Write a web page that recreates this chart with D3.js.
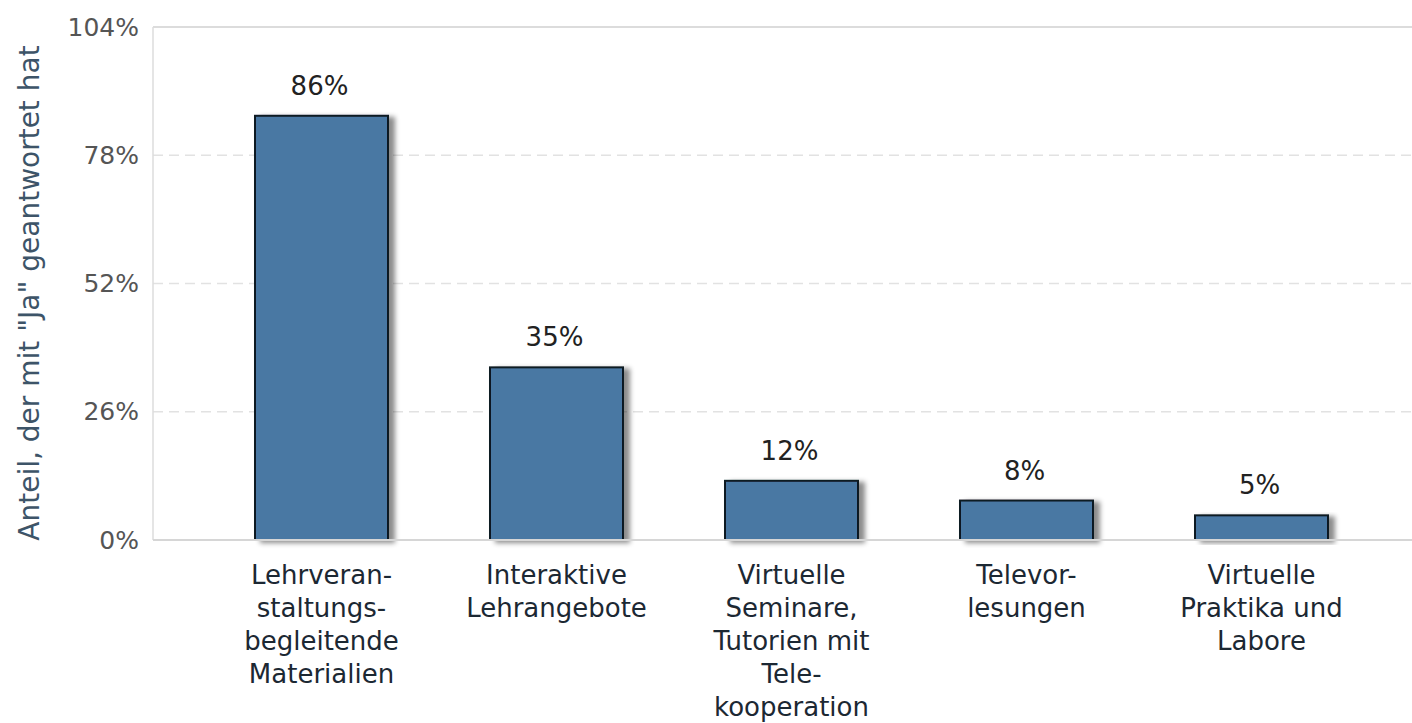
<!DOCTYPE html>
<html>
<head>
<meta charset="utf-8">
<script src="https://cdnjs.cloudflare.com/ajax/libs/d3/7.8.5/d3.min.js"></script>
<style>
  body { margin: 0; background: #fff; }
  text { font-family: "DejaVu Sans", sans-serif; }
</style>
</head>
<body>
<div id="chart"></div>
<script>
const categories = [
  ["Lehrveran-", "staltungs-", "begleitende", "Materialien"],
  ["Interaktive", "Lehrangebote"],
  ["Virtuelle", "Seminare,", "Tutorien mit", "Tele-", "kooperation"],
  ["Televor-", "lesungen"],
  ["Virtuelle", "Praktika und", "Labore"]
]
const values = [86, 35, 12, 8, 5]
const ticks = [0, 26, 52, 78, 104]
const yTitle = 'Anteil, der mit "Ja" geantwortet hat'

const width = 1412, height = 723
const plotLeft = 153, plotTop = 27, plotBottom = 540

const svg = d3.select("#chart").append("svg")
  .attr("width", width)
  .attr("height", height)

// drop shadow for bars
const defs = svg.append("defs")
const f = defs.append("filter").attr("id", "shadow")
  .attr("x", "-10%").attr("y", "-10%").attr("width", "130%").attr("height", "130%")
f.append("feDropShadow")
  .attr("dx", 6).attr("dy", 2).attr("stdDeviation", 2.5)
  .attr("flood-color", "#000").attr("flood-opacity", 0.45)

const x = d3.scaleBand()
  .domain(d3.range(values.length))
  .range([204, 1379])
  .paddingInner(0.434)
  .paddingOuter(0.217)

const y = d3.scaleLinear()
  .domain([0, 104])
  .range([plotBottom, plotTop])

// grid
svg.append("g")
  .selectAll("line")
  .data(ticks.filter(t => t > 0 && t < 104))
  .enter().append("line")
  .attr("x1", plotLeft).attr("x2", width)
  .attr("y1", d => y(d)).attr("y2", d => y(d))
  .attr("stroke", "#e2e2e2")
  .attr("stroke-width", 1.5)
  .attr("stroke-dasharray", "10,6")

// frame
svg.append("line")
  .attr("x1", plotLeft).attr("x2", width)
  .attr("y1", y(104)).attr("y2", y(104))
  .attr("stroke", "#dcdcdc").attr("stroke-width", 2)
svg.append("line")
  .attr("x1", plotLeft).attr("x2", plotLeft)
  .attr("y1", y(104)).attr("y2", y(0))
  .attr("stroke", "#dcdcdc").attr("stroke-width", 1.5)

// y axis labels
const yAxis = svg.append("g")
  .attr("transform", `translate(${plotLeft},0)`)
  .call(d3.axisLeft(y).tickValues(ticks).tickFormat(d => d + "%").tickSize(0).tickPadding(14))
yAxis.select(".domain").remove()
yAxis.selectAll("text")
  .attr("fill", "#555")
  .style("font-size", "25px")
  .style("font-family", "DejaVu Sans, sans-serif")

// bars
svg.append("g")
  .selectAll("rect")
  .data(values)
  .enter().append("rect")
  .attr("x", (d, i) => x(i))
  .attr("y", d => y(d))
  .attr("width", x.bandwidth())
  .attr("height", d => y(0) - y(d))
  .attr("fill", "#4a78a3")
  .attr("stroke", "#111a24")
  .attr("stroke-width", 2)
  .attr("filter", "url(#shadow)")

// bottom axis line
svg.append("line")
  .attr("x1", plotLeft).attr("x2", width)
  .attr("y1", y(0)).attr("y2", y(0))
  .attr("stroke", "#d6d6d6").attr("stroke-width", 2)

// value labels
svg.append("g")
  .selectAll("text")
  .data(values)
  .enter().append("text")
  .attr("x", (d, i) => x(i) + x.bandwidth() / 2 - 2)
  .attr("y", d => y(d) - 21)
  .attr("text-anchor", "middle")
  .attr("fill", "#222")
  .style("font-size", "26px")
  .text(d => d + "%")

// category labels
const cat = svg.append("g")
  .selectAll("text")
  .data(categories)
  .enter().append("text")
  .attr("text-anchor", "middle")
  .attr("fill", "#1c2833")
  .style("font-size", "26px")
cat.each(function(lines, i) {
  d3.select(this).selectAll("tspan")
    .data(lines)
    .enter().append("tspan")
    .attr("x", x(i) + x.bandwidth() / 2)
    .attr("y", (d, j) => 584 + j * 33)
    .text(d => d)
})

// y title
svg.append("text")
  .attr("transform", "translate(39,293) rotate(-90)")
  .attr("text-anchor", "middle")
  .attr("fill", "#3d5468")
  .style("font-size", "28px")
  .text(yTitle)
</script>
</body>
</html>
